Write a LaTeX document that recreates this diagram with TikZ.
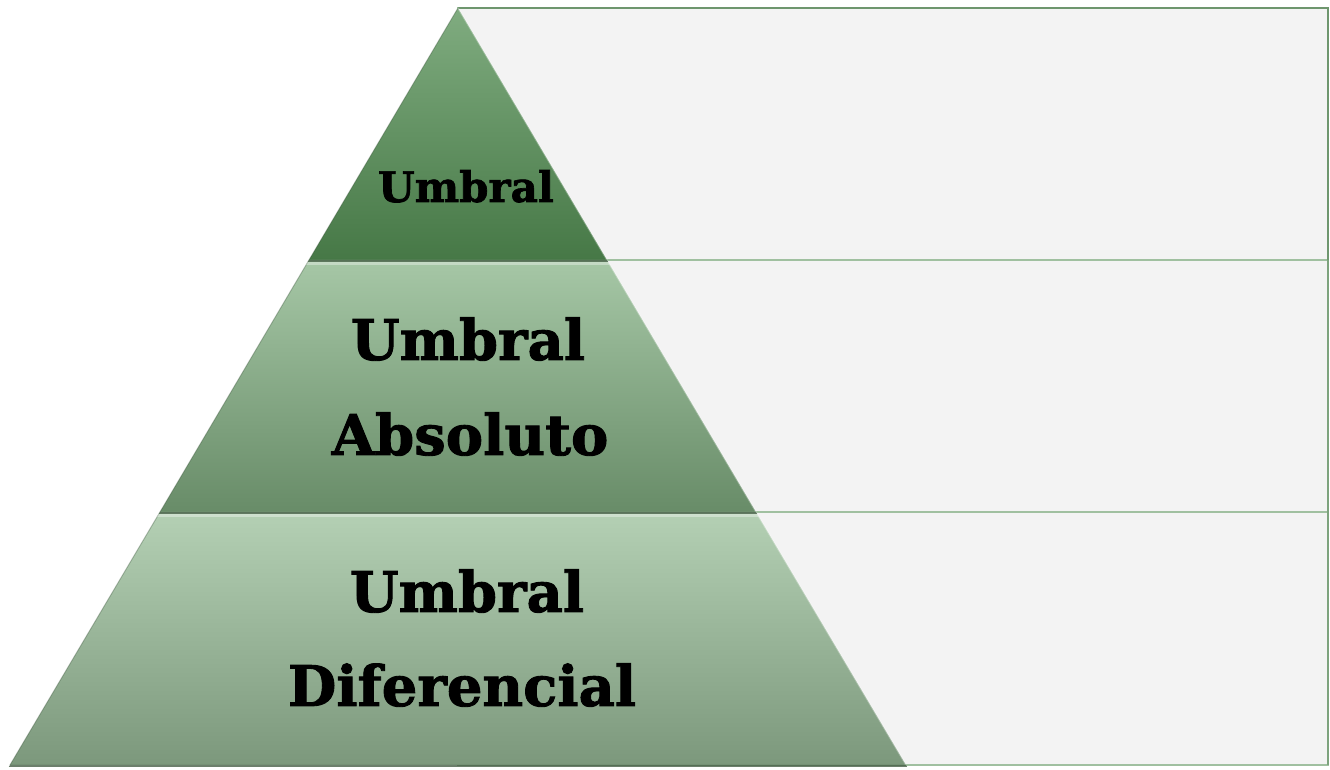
\documentclass[tikz,border=0pt]{standalone}
\usepackage{fontspec}
\setmainfont{DejaVu Serif}
\newfontfamily\heavyfont{DejaVu Serif}[BoldFeatures={FakeBold=1.6}]
\usetikzlibrary{calc}
\begin{document}
\begin{tikzpicture}[x=1pt,y=1pt,
  lbl/.style={font=\heavyfont\bfseries\fontsize{#1}{#1}\selectfont, text=black, anchor=base, inner sep=0pt},
  rowbox/.style={fill=boxfill, draw=boxline, line width=1.5pt}]
\definecolor{boxfill}{RGB}{243,243,243}
\definecolor{boxline}{RGB}{160,192,160}
\definecolor{boxtop}{RGB}{110,150,110}
\definecolor{t1top}{RGB}{128,172,128}
\definecolor{t1bot}{RGB}{70,120,70}
\definecolor{t2top}{RGB}{166,199,166}
\definecolor{t2bot}{RGB}{104,140,104}
\definecolor{t3top}{RGB}{180,208,180}
\definecolor{t3bot}{RGB}{124,152,124}
\definecolor{shadowc}{RGB}{60,85,60}
\useasboundingbox (0,0) rectangle (1330,770);
\fill[white] (0,0) rectangle (1330,770);
% right-hand rows
\coordinate (apex) at (458,762);
\coordinate (bl) at (10,5);
\coordinate (br) at (906,5);
\draw[rowbox] (458,258) rectangle (1328,5);
\draw[rowbox] (458,510) rectangle (1328,258);
\draw[rowbox] (458,762) rectangle (1328,510);
\draw[boxtop, line width=1.5pt] (458,762) -- (1328,762) -- (1328,510);
\draw[boxtop!70!boxline, line width=1.5pt] (1328,510) -- (1328,5);
% pyramid levels
\coordinate (l1) at (309,510); \coordinate (r1) at (607,510);
\coordinate (l2) at (160,258); \coordinate (r2) at (756,258);
\shade[top color=t1top, bottom color=t1bot] (apex) -- (r1) -- (l1) -- cycle;
\shade[top color=t2top, bottom color=t2bot] (l1) -- (r1) -- (r2) -- (l2) -- cycle;
\shade[top color=t3top, bottom color=t3bot] (l2) -- (r2) -- (br) -- (bl) -- cycle;
% bevel edges
\draw[shadowc, opacity=0.35, line width=1pt] (apex) -- (l1) (l1) -- (l2) (l2) -- (bl);
\draw[white, opacity=0.3, line width=1.5pt] (apex) -- (r1) (r1) -- (r2) (r2) -- (br);
% bottom shadows and top highlights
\fill[shadowc, opacity=0.75] (l1) -- (r1) -- ($(r1)+(1.2,-2)$) -- ($(l1)+(-1.2,-2)$) -- cycle;
\fill[shadowc, opacity=0.75] (l2) -- (r2) -- ($(r2)+(1.2,-2)$) -- ($(l2)+(-1.2,-2)$) -- cycle;
\fill[shadowc, opacity=0.75] (bl) -- (br) -- ($(br)+(1.2,-2)$) -- ($(bl)+(-1.2,-2)$) -- cycle;
\fill[white, opacity=0.35] ($(l1)+(-1.2,-2)$) -- ($(r1)+(1.2,-2)$) -- ($(r1)+(3,-5)$) -- ($(l1)+(-3,-5)$) -- cycle;
\fill[white, opacity=0.35] ($(l2)+(-1.2,-2)$) -- ($(r2)+(1.2,-2)$) -- ($(r2)+(3,-5)$) -- ($(l2)+(-3,-5)$) -- cycle;
% labels
\node[lbl=42] (u1) at (466,568) {Umbral};
\node[lbl=56] (u2) at (468,410) {Umbral};
\node[lbl=56] (a2) at (470,315) {Absoluto};
\node[lbl=56] (u3) at (467,158) {Umbral};
\node[lbl=56] (d3) at (462,64) {Diferencial};
\end{tikzpicture}
\end{document}
